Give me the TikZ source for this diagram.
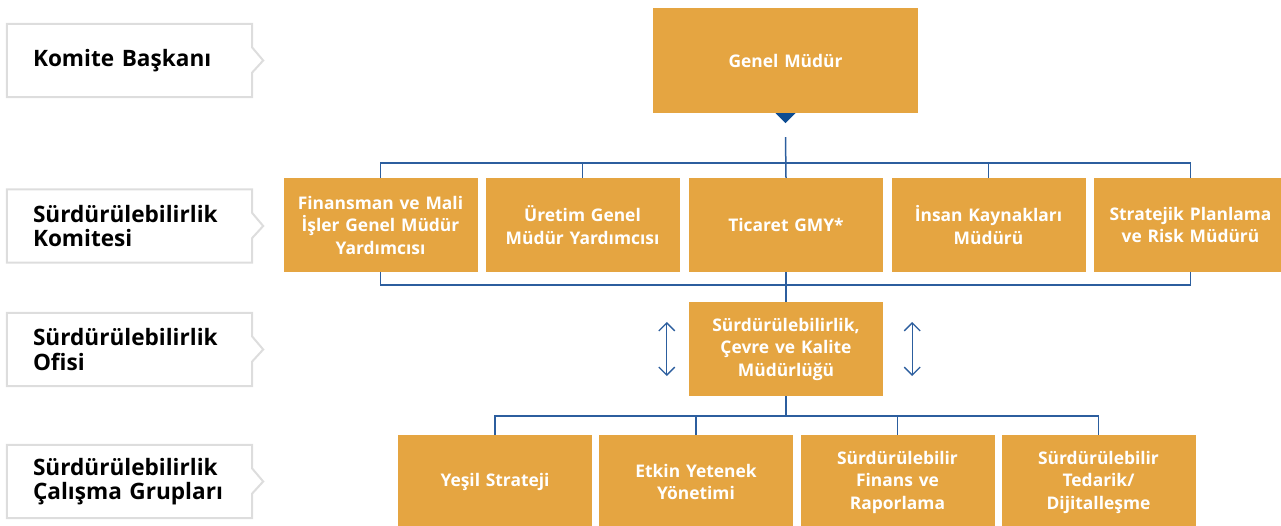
\documentclass[tikz,border=0pt]{standalone}
\usepackage{fontspec}
\setmainfont{Open Sans}
\usetikzlibrary{arrows.meta}
\definecolor{boxorange}{HTML}{E5A541}
\definecolor{lineblue}{HTML}{2C5E9E}
\definecolor{tipblue}{HTML}{0D4C92}
\definecolor{tagborder}{HTML}{DDDDDD}
\begin{document}
\begin{tikzpicture}[
    x=1pt, y=-1pt,
    node distance=124pt,
    unit/.style={rectangle, fill=boxorange, text=white, minimum width=194pt, minimum height=94pt, text width=186pt, inner sep=0pt, align=center, font=\fontsize{17.4}{22.5}\selectfont\bfseries},
    tag/.style={rectangle, minimum width=245pt, minimum height=73pt, text width=193pt, inner xsep=26pt, inner ysep=0pt, align=left, font=\fontsize{22.6}{24.5}\selectfont\bfseries},
    tagline/.style={draw=tagborder, line width=2pt},
    link/.style={draw=lineblue, line width=1.5pt},
    updown/.style={{Straight Barb[length=8pt,width=16pt]}-{Straight Barb[length=8pt,width=16pt]}, draw=lineblue, line width=1.3pt}
]
\useasboundingbox (0,0) rectangle (1281,526);

% Level labels
\node[tag] (baskan) at (129.5,60.5) {Komite Başkanı};
\node[tag] (komite) at (129.5,226) {Sürdürülebilirlik\\Komitesi};
\node[tag] (ofisi) at (129.5,349.5) {Sürdürülebilirlik\\Ofisi};
\node[tag] (grup) at (129.5,481.5) {Sürdürülebilirlik\\Çalışma Grupları};

\foreach \t in {baskan, komite, ofisi, grup}
    \draw[tagline] (\t.north west) -- (\t.north east) -- ([yshift=13pt]\t.east) -- ([xshift=11pt]\t.east) -- ([yshift=-12pt]\t.east) -- (\t.south east) -- (\t.south west) -- cycle;

% General manager
\node[unit, minimum width=265pt, minimum height=105pt] (gm) at (785.5,60.5) {Genel Müdür};

% Committee
\node[unit, below of=gm, yshift=-40.5pt, xshift=-405pt] (finansman) {Finansman ve Mali\\İşler Genel Müdür\\Yardımcısı};
\node[unit, below of=gm, yshift=-40.5pt, xshift=-203pt] (uretim) {Üretim Genel\\Müdür Yardımcısı};
\node[unit, below of=gm, yshift=-40.5pt, xshift=0.5pt] (ticaret) {Ticaret GMY*};
\node[unit, below of=gm, yshift=-40.5pt, xshift=203pt] (insan) {İnsan Kaynakları\\Müdürü};
\node[unit, below of=gm, yshift=-40.5pt, xshift=405pt] (strateji) {Stratejik Planlama\\ve Risk Müdürü};

% Office
\node[unit] (ofis) [below of=ticaret] {Sürdürülebilirlik,\\Çevre ve Kalite\\Müdürlüğü};

% Working groups
\node[unit, below of=ofis, yshift=-9pt, xshift=-291pt] (yesil) {Yeşil Strateji};
\node[unit, below of=ofis, yshift=-9pt, xshift=-90pt] (etkin) {Etkin Yetenek\\Yönetimi};
\node[unit, below of=ofis, yshift=-9pt, xshift=111.5pt] (finans) {Sürdürülebilir\\Finans ve\\Raporlama};
\node[unit, below of=ofis, yshift=-9pt, xshift=312.5pt] (tedarik) {Sürdürülebilir\\Tedarik/\\Dijitalleşme};

% Connectors
\fill[tipblue] ([xshift=-10pt]gm.south) -- ([xshift=10pt]gm.south) -- ([yshift=-10pt]gm.south) -- cycle;
\coordinate (gmline) at ([yshift=-24pt]gm.south);
\draw[link] (gmline) -- (ticaret.north);
\draw[link] (finansman.north) -- ++(0,-15) -| (strateji.north);
\draw[link] (uretim.north) -- ++(0,-15);
\draw[link] (insan.north) -- ++(0,-15);

\draw[link] (finansman.south) -- ++(0,13) -| (strateji.south);
\draw[link] (ticaret.south) -- (ofis.north);

\draw[link] (ofis.south) -- ++(0,20);
\draw[link] (yesil.north) -- ++(0,-19) -| (tedarik.north);
\draw[link] (etkin.north) -- ++(0,-19);
\draw[link] (finans.north) -- ++(0,-19);

\coordinate (lefttop) at ([xshift=-22pt, yshift=27pt]ofis.west);
\coordinate (leftbot) at ([xshift=-22pt, yshift=-27pt]ofis.west);
\coordinate (righttop) at ([xshift=29pt, yshift=27pt]ofis.east);
\coordinate (rightbot) at ([xshift=29pt, yshift=-27pt]ofis.east);
\draw[updown] (lefttop) -- (leftbot);
\draw[updown] (righttop) -- (rightbot);

\end{tikzpicture}
\end{document}
